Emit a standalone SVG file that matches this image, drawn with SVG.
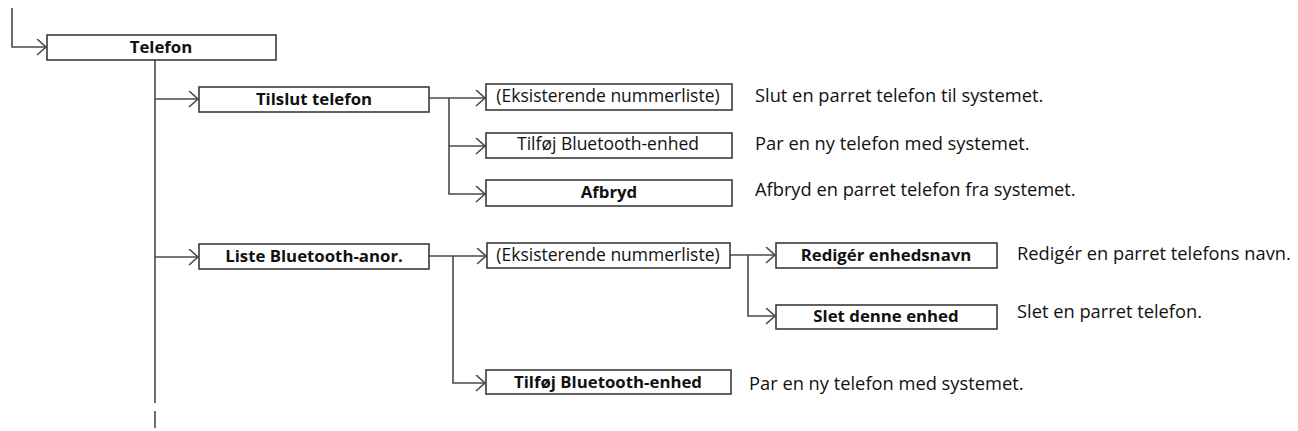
<svg xmlns="http://www.w3.org/2000/svg" width="1298" height="431" viewBox="0 0 1298 431">
<style>
  .box{fill:#fff;stroke:#3a3a3a;stroke-width:1.6}
  .lbl{font-family:"Open Sans","Liberation Sans",sans-serif;font-size:17.5px;fill:#111;text-anchor:middle}
  .b{font-weight:bold;font-size:16.8px}
  .desc{font-family:"Open Sans","Liberation Sans",sans-serif;font-size:18.3px;fill:#111}
  .ln{fill:none;stroke:#4a4a4a;stroke-width:1.6}
</style>
<defs>
  <marker id="arr" markerUnits="userSpaceOnUse" markerWidth="14" markerHeight="20" refX="10" refY="8" orient="auto">
    <path d="M1,0 L10,8 L1,16" fill="none" stroke="#4a4a4a" stroke-width="1.6"/>
  </marker>
</defs>
<g id="connectors">
  <path class="ln" d="M12,8 V47 H46" marker-end="url(#arr)"/>
  <path class="ln" d="M155,60 V403"/>
  <path class="ln" d="M155,411 V428"/>
  <path class="ln" d="M155,99 H198" marker-end="url(#arr)"/>
  <path class="ln" d="M155,257 H198" marker-end="url(#arr)"/>
  <path class="ln" d="M429,98 H485" marker-end="url(#arr)"/>
  <path class="ln" d="M449,98 V194 H485" marker-end="url(#arr)"/>
  <path class="ln" d="M449,146 H485" marker-end="url(#arr)"/>
  <path class="ln" d="M429,256 H486" marker-end="url(#arr)"/>
  <path class="ln" d="M453,256 V383 H485" marker-end="url(#arr)"/>
  <path class="ln" d="M730,255 H775" marker-end="url(#arr)"/>
  <path class="ln" d="M748,255 V316 H775" marker-end="url(#arr)"/>
</g>
<g id="telefon"><rect class="box" x="47" y="35" width="229" height="25"/><text class="lbl b" x="161" y="53">Telefon</text></g>
<g id="tilslut"><rect class="box" x="199" y="87" width="230" height="25"/><text class="lbl b" x="314" y="105">Tilslut telefon</text></g>
<g id="eksist1"><rect class="box" x="486" y="84" width="246" height="26"/><text class="lbl" x="608" y="102">(Eksisterende nummerliste)</text></g>
<g id="tilfoej1"><rect class="box" x="486" y="133" width="246" height="25"/><text class="lbl" x="608" y="150">Tilføj Bluetooth-enhed</text></g>
<g id="afbryd"><rect class="box" x="486" y="180" width="246" height="26"/><text class="lbl b" x="609" y="198">Afbryd</text></g>
<g id="liste"><rect class="box" x="199" y="244" width="230" height="25"/><text class="lbl b" x="314" y="262">Liste Bluetooth-anor.</text></g>
<g id="eksist2"><rect class="box" x="487" y="243" width="243" height="25"/><text class="lbl" x="608" y="261">(Eksisterende nummerliste)</text></g>
<g id="redig"><rect class="box" x="776" y="243" width="221" height="25"/><text class="lbl b" x="886" y="261">Redigér enhedsnavn</text></g>
<g id="slet"><rect class="box" x="776" y="305" width="221" height="24"/><text class="lbl b" x="886" y="322">Slet denne enhed</text></g>
<g id="tilfoej2"><rect class="box" x="486" y="370" width="245" height="24"/><text class="lbl b" x="608" y="388">Tilføj Bluetooth-enhed</text></g>
<g id="descs">
  <text class="desc" x="755" y="102">Slut en parret telefon til systemet.</text>
  <text class="desc" x="755" y="150">Par en ny telefon med systemet.</text>
  <text class="desc" x="755" y="196">Afbryd en parret telefon fra systemet.</text>
  <text class="desc" x="1017" y="260">Redigér en parret telefons navn.</text>
  <text class="desc" x="1017" y="318">Slet en parret telefon.</text>
  <text class="desc" x="749" y="390">Par en ny telefon med systemet.</text>
</g>
</svg>
